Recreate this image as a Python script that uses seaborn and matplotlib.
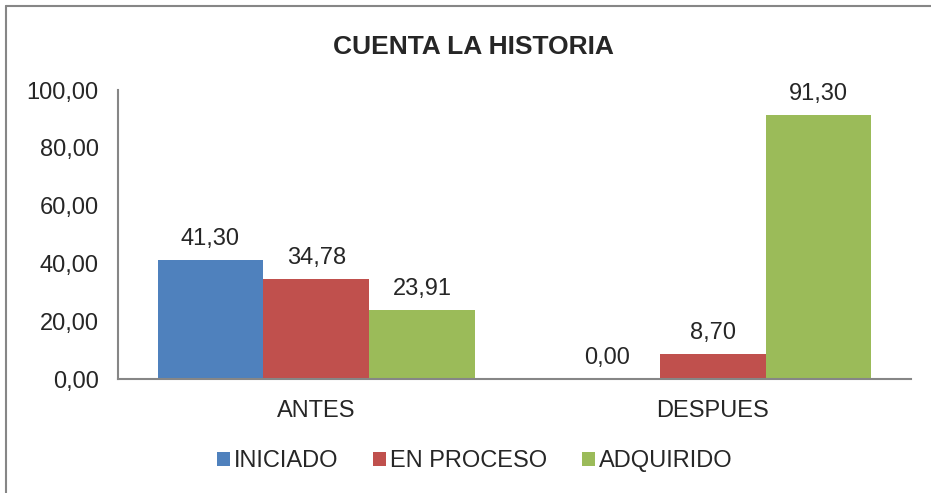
import pandas as pd
import seaborn as sns
import matplotlib.pyplot as plt
from matplotlib.lines import Line2D
from matplotlib.ticker import FuncFormatter

# data
momentos = ['ANTES', 'DESPUES']
niveles = ['INICIADO', 'EN PROCESO', 'ADQUIRIDO']
iniciado = [41.30, 0.00]
en_proceso = [34.78, 8.70]
adquirido = [23.91, 91.30]
colores = ['#4F81BD', '#C0504D', '#9BBB59']

df = pd.DataFrame({
    'Momento': momentos * 3,
    'Nivel': [n for n in niveles for _ in momentos],
    'Porcentaje': iniciado + en_proceso + adquirido,
})

sns.set_style('white')
plt.rcParams['font.family'] = ['Liberation Sans', 'DejaVu Sans']

fig = plt.figure(figsize=(9.31, 4.93), dpi=100)
ax = fig.add_axes([0.1267, 0.2312, 0.8518, 0.5862])

sns.barplot(data=df, x='Momento', y='Porcentaje', hue='Nivel',
            hue_order=niveles, palette=colores, width=0.8,
            saturation=1, ax=ax, errorbar=None, linewidth=0)

coma = lambda v: f'{v:.2f}'.replace('.', ',')
for cont in ax.containers:
    ax.bar_label(cont, labels=[coma(b.get_height()) for b in cont],
                 padding=7, fontsize=17)

ax.set_ylim(0, 100)
ax.set_yticks(range(0, 101, 20))
ax.yaxis.set_major_formatter(FuncFormatter(lambda v, p: coma(v)))
ax.set_xlim(-0.5, 1.5)
ax.set_xlabel('')
ax.set_ylabel('')
ax.tick_params(axis='both', length=0, labelsize=17)
ax.tick_params(axis='x', pad=15)
ax.tick_params(axis='y', pad=14)

for s in ['top', 'right']:
    ax.spines[s].set_visible(False)
for s in ['left', 'bottom']:
    ax.spines[s].set_color('#868686')
    ax.spines[s].set_linewidth(1.5)

fig.text(0.509, 0.905, 'CUENTA LA HISTORIA', ha='center', va='center',
         fontsize=19, fontweight='bold')

ax.legend(loc='center', bbox_to_anchor=(0.45, -0.285), ncol=3, frameon=False,
          fontsize=17, handlelength=0.55, handleheight=0.55,
          handletextpad=0.15, columnspacing=1.5)

# marco de la figura (solo visible arriba e izquierda)
fig.add_artist(Line2D([6 / 931, 6 / 931], [0, 1 - 6 / 493],
                      transform=fig.transFigure, color='#868686', lw=1.5))
fig.add_artist(Line2D([6 / 931, 1], [1 - 6 / 493, 1 - 6 / 493],
                      transform=fig.transFigure, color='#868686', lw=1.5))

fig.savefig('out.png', dpi=100)
